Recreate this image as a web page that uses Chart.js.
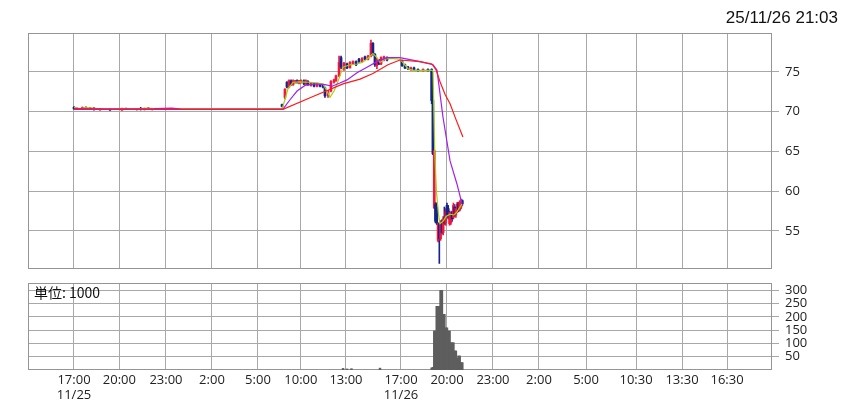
<!DOCTYPE html>
<html><head><meta charset="utf-8">
<script src="https://cdn.jsdelivr.net/npm/chart.js@4.4.1/dist/chart.umd.min.js"></script>
<style>
html,body{margin:0;padding:0;background:#fff;width:850px;height:415px;overflow:hidden;}
#wrap{position:relative;width:850px;height:415px;}
canvas{position:absolute;left:0;}
#stamp{position:absolute;right:12px;top:8px;font:17px "Liberation Sans",Arial,sans-serif;line-height:20px;color:#111;}
#unit{position:absolute;left:34px;top:284px;font:14px "Noto Sans CJK JP","Noto Sans",sans-serif;line-height:17px;color:#111;}
</style></head>
<body><div id="wrap">
<canvas id="main" width="850" height="285" style="top:0"></canvas>
<canvas id="vol" width="850" height="147" style="top:268px"></canvas>
<div id="stamp">25/11/26 21:03</div>
<div id="unit">単位: 1000</div>
</div>
<script>
// ---- axis (session-hour units on a compressed time axis) ----
const axisMax = 48.53;
const tickPos = [3.0, 5.96, 9.0, 12.0, 15.0, 17.8, 20.74, 24.33, 27.33, 30.33, 33.33, 36.4, 39.66, 42.66, 45.6];
const tickLabels = [['17:00','11/25'],'20:00','23:00','2:00','5:00','10:00','13:00',['17:00','11/26'],'20:00','23:00','2:00','5:00','10:30','13:30','16:30'];
const priceTicks = [55, 60, 65, 70, 75];
const volTicks = [50, 100, 150, 200, 250, 300];

// ---- candles ----
const candlePos = [
 3.00,3.17,3.55,3.78,4.05,4.30,4.70,5.35,6.13,6.40,7.10,7.35,7.60,7.85,8.10,8.28,
 16.57,16.76,16.89,17.02,17.16,17.29,17.42,17.55,17.68,17.81,18.00,18.13,18.26,18.46,18.66,18.85,19.05,19.24,19.37,19.57,19.76,19.96,20.09,20.29,20.42,20.61,20.81,21.00,21.20,21.40,21.59,21.79,21.98,22.18,22.37,22.50,22.63,22.76,22.89,23.03,23.22,23.42,
 24.40,24.59,24.79,24.98,25.18,25.44,25.77,26.09,
 26.33,26.41,26.50,26.58,26.66,26.75,26.83,26.91,27.00,27.08,27.16,27.25,27.33,27.41,27.50,27.58,27.66,27.75,27.83,27.91,28.00,28.08,28.16,28.25,28.33
];
const candleOpen = [
 70.55,70.35,70.40,70.55,70.30,70.45,70.25,70.30,70.20,70.40,70.25,70.40,70.25,70.45,70.30,70.35,
 70.90,71.8,73.7,73.1,73.9,73.4,73.7,73.9,73.6,73.7,73.9,73.5,73.8,73.3,73.5,73.2,73.4,73.3,73.0,72.0,72.6,73.7,73.9,74.5,76.8,75.5,76.0,75.5,76.0,76.3,76.6,76.3,76.9,76.6,77.0,78.6,77.2,75.8,76.5,76.0,76.5,76.8,
 76.4,75.9,75.6,75.3,75.5,75.3,75.2,75.3,
 75.3,71.4,57.9,58.4,58.0,53.8,55.9,54.0,56.2,54.8,56.5,56.0,58.2,57.8,55.9,56.0,57.3,56.7,58.0,57.0,57.5,58.4,57.6,58.0,58.8
];
const candleHigh = [
 70.65,70.45,70.60,70.60,70.55,70.50,70.35,70.35,70.45,70.45,70.40,70.55,70.45,70.50,70.40,70.40,
 70.95,72.9,73.8,74.0,74.0,74.0,73.95,74.0,73.95,74.0,74.0,74.0,73.9,73.7,73.6,73.6,73.5,73.4,73.1,72.7,73.9,74.1,74.6,77.0,77.0,76.2,76.1,76.3,76.4,76.4,76.7,76.8,77.0,77.1,79.0,78.7,77.3,76.7,76.6,76.9,77.0,76.9,
 76.5,76.0,75.7,75.6,75.6,75.4,75.4,75.4,
 75.4,71.5,65.2,58.6,58.5,56.0,56.0,56.3,56.4,56.8,58.0,57.8,58.5,58.2,57.5,57.4,57.5,58.5,58.3,58.0,58.6,58.6,58.8,59.0,58.9
];
const candleLow = [
 70.30,70.25,70.35,70.30,70.25,70.20,70.15,70.15,70.15,70.25,70.20,70.20,70.20,70.25,70.20,70.25,
 70.60,71.6,73.0,73.0,73.3,73.3,73.6,73.6,73.5,73.6,73.4,73.4,73.3,73.2,73.1,73.1,73.1,73.0,71.8,71.8,72.5,73.6,73.8,74.4,75.4,75.2,75.4,75.5,75.9,75.8,76.2,76.2,76.5,76.5,76.9,77.1,75.7,75.4,75.9,75.9,76.4,76.4,
 75.7,75.4,75.3,75.2,75.2,75.1,75.1,75.1,
 71.0,64.6,57.8,56.0,55.8,53.6,50.9,53.8,54.6,54.5,55.8,55.7,56.8,56.5,55.7,55.8,56.2,56.5,56.8,56.7,57.3,57.4,57.5,57.8,58.2
];
const candleClose = [
 70.35,70.40,70.55,70.35,70.50,70.25,70.30,70.20,70.40,70.30,70.35,70.25,70.40,70.30,70.35,70.30,
 70.65,72.8,73.1,73.9,73.4,73.9,73.9,73.7,73.9,73.9,73.5,73.9,73.4,73.6,73.2,73.5,73.2,73.1,72.0,72.6,73.8,74.0,74.5,76.2,75.6,76.1,75.5,76.2,76.3,75.9,76.3,76.7,76.6,77.0,78.6,77.2,75.9,76.6,76.0,76.8,76.9,76.5,
 75.8,75.5,75.4,75.5,75.3,75.2,75.3,75.2,
 71.4,64.7,65.1,56.2,56.0,55.9,54.0,56.0,54.8,56.5,56.0,57.4,57.0,56.7,57.3,57.2,56.5,58.2,57.0,57.8,58.4,57.6,58.6,58.7,58.4
];

// ---- moving averages ----
const shortMaPos = [3.00,3.39,3.78,4.17,4.70,5.35,6.13,6.65,7.31,7.83,8.28,16.57,16.76,16.96,17.29,17.74,18.39,18.92,19.24,19.50,19.70,19.96,20.16,20.55,21.00,21.46,21.79,22.11,22.50,22.76,22.96,23.29,23.61,24.26,24.53,24.79,25.11,26.35,26.42,26.53,26.64,26.78,26.87,27.07,27.27,27.53,27.79,27.98,28.31];
const shortMaVal = [70.50,70.40,70.50,70.45,70.35,70.30,70.40,70.35,70.40,70.45,70.35,70.35,71.5,72.9,73.7,73.75,73.7,73.6,73.5,72.6,71.8,72.6,73.5,75.6,75.9,76.0,76.2,76.6,77.3,76.8,76.2,76.6,76.7,76.6,76.0,75.4,75.2,75.2,75.1,65.1,60.0,57.0,55.9,56.2,56.8,57.1,57.0,57.4,58.4];
const midMaPos = [3.00,5.35,8.28,9.39,10.0,16.63,17.09,17.55,18.07,18.72,19.37,19.83,20.35,20.81,21.46,22.11,22.76,23.42,24.26,25.57,26.42,26.68,27.07,27.53,27.98,28.31];
const midMaVal = [70.40,70.35,70.38,70.44,70.32,70.32,71.5,72.6,73.3,73.5,73.4,73.2,73.6,74.0,74.9,75.6,76.3,76.8,76.8,76.3,75.9,75.2,69.3,63.8,60.9,58.4];
const longMaPos = [3.00,16.63,18.59,20.55,21.66,22.50,23.48,24.26,25.57,26.35,26.61,26.87,27.20,27.53,27.92,28.37];
const longMaVal = [70.30,70.30,71.9,73.5,74.1,74.8,75.9,76.5,76.3,76.0,75.3,73.8,72.2,71.0,69.0,66.8];

// ---- volume (units of 1000) ----
const volPos = [20.55,20.81,21.10,22.96,26.33,26.41,26.50,26.58,26.66,26.75,26.83,26.91,27.00,27.08,27.16,27.25,27.33,27.41,27.50,27.58,27.66,27.75,27.83,27.91,28.00,28.08,28.16,28.25,28.33];
const volVal = [6,4,5,7,8,10,147,147,240,240,240,300,300,210,210,159,159,147,147,103,103,103,72,72,44,53,53,28,28];

// ---- styles ----
const UP = '#f0183c', DOWN = '#14248c';
const GRID = '#a8a8a8', FRAME = '#959595', TXT = '#222';
const FONT = {family: '"Open Sans","Noto Sans",sans-serif', size: 13};

const candleColors = candleOpen.map((o, i) => candleClose[i] >= o ? UP : DOWN);
const wickData = candlePos.map((x, i) => ({x, y: [candleLow[i], candleHigh[i]]}));
const bodyData = candlePos.map((x, i) => ({x, y: [candleOpen[i], candleClose[i]]}));
const pts = (p, v) => p.map((x, i) => ({x, y: v[i]}));

const frame = {
  id: 'frame',
  beforeDatasetsDraw(chart) {
    const a = chart.chartArea, c = chart.ctx;
    c.save(); c.strokeStyle = FRAME; c.lineWidth = 1;
    c.strokeRect(Math.round(a.left) + 0.5, Math.round(a.top) + 0.5, Math.round(a.right - a.left) - 1, Math.round(a.bottom - a.top) - 1);
    c.restore();
  }
};

const xCommon = (showLabels, h) => ({
  type: 'linear', min: 0, max: axisMax, offset: false,
  afterBuildTicks: s => { s.ticks = tickPos.map(v => ({value: v})); },
  afterFit: s => { s.height = h; },
  grid: {color: GRID, drawTicks: false, lineWidth: 1, offset: false},
  border: {display: false},
  ticks: {display: showLabels, autoSkip: false, maxRotation: 0, padding: 2, color: TXT, font: FONT,
          callback: (v, i) => tickLabels[i]}
});
const yCommon = (min, max, ticks) => ({
  type: 'linear', position: 'right', min, max,
  afterBuildTicks: s => { s.ticks = ticks.map(v => ({value: v})); },
  afterFit: s => { s.width = 78; },
  grid: {color: GRID, tickColor: GRID, tickLength: 7, lineWidth: 1},
  border: {display: false},
  ticks: {padding: 6, color: TXT, font: FONT, autoSkip: false, callback: v => String(v)}
});

Chart.defaults.font.family = FONT.family;

new Chart(document.getElementById('main'), {
  type: 'bar',
  data: {datasets: [
    {type: 'line', data: pts(longMaPos, longMaVal), borderColor: '#ff1a1a', borderWidth: 1.2, pointRadius: 0, order: 1},
    {type: 'line', data: pts(midMaPos, midMaVal), borderColor: '#a020f0', borderWidth: 1.2, pointRadius: 0, order: 2},
    {type: 'line', data: pts(shortMaPos, shortMaVal), borderColor: '#a6cf10', borderWidth: 1.2, pointRadius: 0, order: 3},
    {type: 'bar', data: bodyData, backgroundColor: candleColors, barThickness: 2, minBarLength: 1, grouped: false, order: 4},
    {type: 'bar', data: wickData, backgroundColor: candleColors, barThickness: 1, minBarLength: 1, grouped: false, order: 5}
  ]},
  options: {
    responsive: false, animation: false, devicePixelRatio: 1,
    layout: {padding: {left: 28, top: 33, right: 0, bottom: 16}},
    plugins: {legend: {display: false}, tooltip: {enabled: false}},
    scales: {x: xCommon(false, 0), y: yCommon(50.2, 79.9, priceTicks)}
  },
  plugins: [frame]
});

new Chart(document.getElementById('vol'), {
  type: 'bar',
  data: {datasets: [
    {data: pts(volPos, volVal), backgroundColor: '#5e5e5e', barThickness: 1.8, borderWidth: 0, grouped: false}
  ]},
  options: {
    responsive: false, animation: false, devicePixelRatio: 1,
    layout: {padding: {left: 28, top: 15, right: 0, bottom: 0}},
    plugins: {legend: {display: false}, tooltip: {enabled: false}},
    scales: {x: xCommon(true, 45), y: yCommon(0, 328, volTicks)}
  },
  plugins: [frame]
});
</script>
</body></html>
